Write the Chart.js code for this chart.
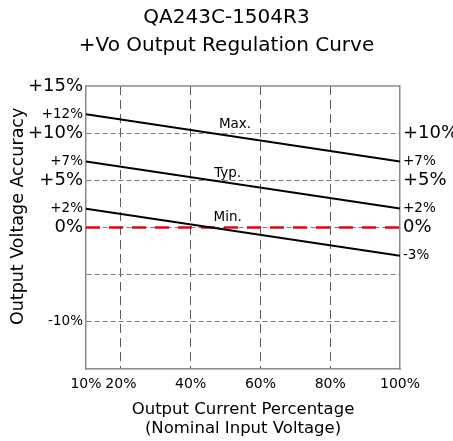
<!DOCTYPE html>
<html>
<head>
<meta charset="utf-8">
<script src="https://cdn.jsdelivr.net/npm/chart.js@4/dist/chart.umd.min.js"></script>
<style>
  html, body { margin: 0; padding: 0; background: #fff; }
  #wrap { width: 453px; height: 441px; }
</style>
</head>
<body>
<div id="wrap"><canvas id="regChart"></canvas></div>
<script>
////// data //////
const loadPct = [10, 100];          // output current percentage
const maxCurve = [12, 7];           // accuracy %, max
const typCurve = [7, 2];            // accuracy %, typical
const minCurve = [2, -3];           // accuracy %, min
const zeroLine = [0, 0];            // nominal reference

const xTicks = [10, 20, 40, 60, 80, 100];
const leftTicks = [15, 12, 10, 7, 5, 2, 0, -5, -10];
const rightTicks = [10, 7, 5, 2, 0, -3];
const bigTicks = [15, 10, 5, 0];     // drawn in the larger font
const gridTicks = [10, 5, 0, -5, -10];
const blankTicks = [-5];             // grid line, no label

const curveNames = ['Max.', 'Typ.', 'Min.'];
const curveNameX = [52.7, 50.6, 50.6];
const curveNameY = [10.9, 5.75, 1.1];

////// helpers //////
Chart.defaults.font.family = '"DejaVu Sans", sans-serif';
Chart.defaults.color = '#000';

const toPts = ys => loadPct.map((x, i) => ({ x: x, y: ys[i] }));
const pctLabel = v => (v > 0 ? '+' + v : '' + v) + '%';
const tickFont = ctx => ({ size: ctx.tick && bigTicks.includes(ctx.tick.value) ? 18 : 13.5 });

// top border of the plot + the Max./Typ./Min. captions
const framePlugin = {
  id: 'frame',
  afterDatasetsDraw(chart) {
    const { ctx, chartArea: a, scales } = chart;
    ctx.save();
    ctx.strokeStyle = '#8a8a8a';
    ctx.lineWidth = 1.5;
    ctx.beginPath();
    ctx.moveTo(a.left, a.top);
    ctx.lineTo(a.right, a.top);
    ctx.stroke();

    ctx.fillStyle = '#000';
    ctx.font = '13.5px "DejaVu Sans", sans-serif';
    ctx.textAlign = 'center';
    ctx.textBaseline = 'middle';
    curveNames.forEach((name, i) => {
      ctx.fillText(name, scales.x.getPixelForValue(curveNameX[i]), scales.y.getPixelForValue(curveNameY[i]));
    });
    ctx.restore();
  }
};

////// chart //////
const solid = ys => ({
  data: toPts(ys),
  borderColor: '#000',
  borderWidth: 2,
  pointRadius: 0,
  fill: false
});

new Chart(document.querySelector('#regChart'), {
  type: 'line',
  data: {
    datasets: [
      { label: 'Max.', ...solid(maxCurve) },
      { label: 'Typ.', ...solid(typCurve) },
      { label: 'Min.', ...solid(minCurve) },
      {
        label: '0%',
        data: toPts(zeroLine),
        borderColor: '#e30613',
        borderWidth: 2.5,
        borderDash: [14, 9],
        pointRadius: 0,
        fill: false
      }
    ]
  },
  options: {
    responsive: true,
    maintainAspectRatio: false,
    animation: false,
    layout: { padding: 0 },
    plugins: {
      legend: { display: false },
      tooltip: { enabled: false },
      title: {
        display: true,
        text: ['QA243C-1504R3', '+Vo Output Regulation Curve'],
        font: { size: 20, weight: 'normal', lineHeight: '28px' },
        color: '#000',
        padding: { top: 4, bottom: 26 }
      }
    },
    scales: {
      x: {
        type: 'linear',
        min: 10,
        max: 100,
        afterBuildTicks: s => { s.ticks = xTicks.map(v => ({ value: v })); },
        afterFit: s => { s.height = 72; },
        ticks: {
          callback: v => v + '%',
          font: { size: 14 },
          color: '#000',
          padding: 7,
          maxRotation: 0,
          autoSkip: false
        },
        grid: {
          color: ctx => (ctx.tick && (ctx.tick.value === 10 || ctx.tick.value === 100)) ? 'rgba(0,0,0,0)' : '#5a5a5a',
          lineWidth: 1,
          drawTicks: false
        },
        border: { color: '#8a8a8a', width: 1.5, dash: [9, 5] },
        title: {
          display: true,
          text: ['Output Current Percentage', '(Nominal Input Voltage)'],
          font: { size: 16.5, lineHeight: '19px' },
          color: '#000',
          padding: { top: 0, bottom: 3 }
        }
      },
      y: {
        type: 'linear',
        position: 'left',
        min: -15,
        max: 15,
        afterBuildTicks: s => { s.ticks = leftTicks.map(v => ({ value: v })); },
        afterFit: s => { s.width = 86; },
        ticks: {
          callback: v => blankTicks.includes(v) ? '' : pctLabel(v),
          font: tickFont,
          color: '#000',
          padding: 3,
          autoSkip: false
        },
        grid: {
          color: ctx => (ctx.tick && gridTicks.includes(ctx.tick.value)) ? '#7a7a7a' : 'rgba(0,0,0,0)',
          lineWidth: 1,
          drawTicks: false
        },
        border: { color: '#8a8a8a', width: 1.5, dash: [5, 3] },
        title: {
          display: true,
          text: '    Output Voltage Accuracy',
          font: { size: 17.5 },
          color: '#000',
          padding: { top: 8, bottom: 0 }
        }
      },
      y2: {
        type: 'linear',
        position: 'right',
        min: -15,
        max: 15,
        afterBuildTicks: s => { s.ticks = rightTicks.map(v => ({ value: v })); },
        afterFit: s => { s.width = 53; },
        ticks: {
          callback: v => pctLabel(v),
          font: tickFont,
          color: '#000',
          padding: 3,
          autoSkip: false
        },
        grid: { drawOnChartArea: false, drawTicks: false },
        border: { color: '#8a8a8a', width: 1.5 }
      }
    }
  },
  plugins: [framePlugin]
});
</script>
</body>
</html>
